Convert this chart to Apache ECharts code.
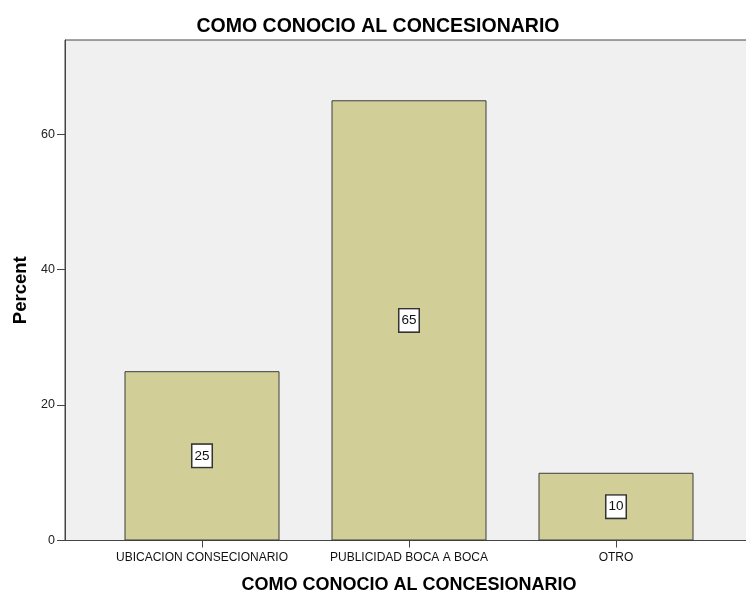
<!DOCTYPE html>
<html>
<head>
<meta charset="utf-8">
<script src="https://cdn.jsdelivr.net/npm/echarts@6/dist/echarts.min.js"></script>
<style>html,body{margin:0;padding:0;background:#fff}#c{width:746px;height:592px}</style>
</head>
<body>
<div id="c"></div>
<script>
const categories = ['UBICACION CONSECIONARIO', 'PUBLICIDAD BOCA A BOCA', 'OTRO'];
const percentValues = [25, 65, 10];
const yTicks = [0, 20, 40, 60];
const chartTitle = 'COMO CONOCIO AL CONCESIONARIO';
const xTitle = 'COMO CONOCIO AL CONCESIONARIO';
const yTitle = 'Percent';

const FONT = '"Liberation Sans", Arial, sans-serif';
const YMAX = 73.9;

const chart = echarts.init(document.getElementById('c'), null, {renderer: 'canvas'});
chart.setOption({
  animation: false,
  textStyle: {fontFamily: FONT},
  title: {
    text: chartTitle, left: 373, top: 12, textAlign: 'center',
    textStyle: {fontFamily: FONT, fontSize: 19.5, fontWeight: 'bold', color: '#000'}
  },
  grid: [
    {left: 65, top: 40, right: -10, bottom: 51.5, show: true, outerBoundsMode: 'none',
     backgroundColor: '#f0f0f0', borderColor: '#444', borderWidth: 1, containLabel: false},
    {left: 98.5, top: 40, width: 621, bottom: 51.5, outerBoundsMode: 'none', containLabel: false}
  ],
  xAxis: [
    {gridIndex: 0, type: 'value', min: 0, max: 1, show: false},
    {gridIndex: 1, type: 'category', data: categories,
     axisLine: {show: false},
     axisTick: {show: true, alignWithLabel: true, length: 7, lineStyle: {color: '#444'}},
     axisLabel: {fontFamily: FONT, fontSize: 12, color: '#111', margin: 11, interval: 0, hideOverlap: false},
     name: xTitle, nameLocation: 'middle', nameGap: 36,
     nameTextStyle: {fontFamily: FONT, fontSize: 18, fontWeight: 'bold', color: '#000'}}
  ],
  yAxis: [
    {gridIndex: 0, type: 'value', min: 0, max: YMAX, interval: 20,
     axisLine: {show: true, lineStyle: {color: '#444'}},
     axisTick: {show: true, length: 8, customValues: yTicks, lineStyle: {color: '#444'}},
     axisLabel: {fontFamily: FONT, fontSize: 12.5, color: '#222', margin: 10, customValues: yTicks},
     splitLine: {show: false},
     name: yTitle, nameLocation: 'middle', nameGap: 35,
     nameTextStyle: {fontFamily: FONT, fontSize: 18.5, fontWeight: 'bold', color: '#000'}},
    {gridIndex: 1, type: 'value', min: 0, max: YMAX, show: false}
  ],
  series: [{
    type: 'bar', xAxisIndex: 1, yAxisIndex: 1,
    data: percentValues,
    barWidth: 155,
    itemStyle: {color: '#d2ce97', borderColor: '#3c3c3c', borderWidth: 1},
    label: {
      show: true, position: 'inside', fontFamily: FONT, fontSize: 13.5, color: '#111',
      backgroundColor: '#fff', borderColor: '#333', borderWidth: 1.5, padding: [5, 2, 3, 2]
    }
  }]
});
</script>
</body>
</html>
